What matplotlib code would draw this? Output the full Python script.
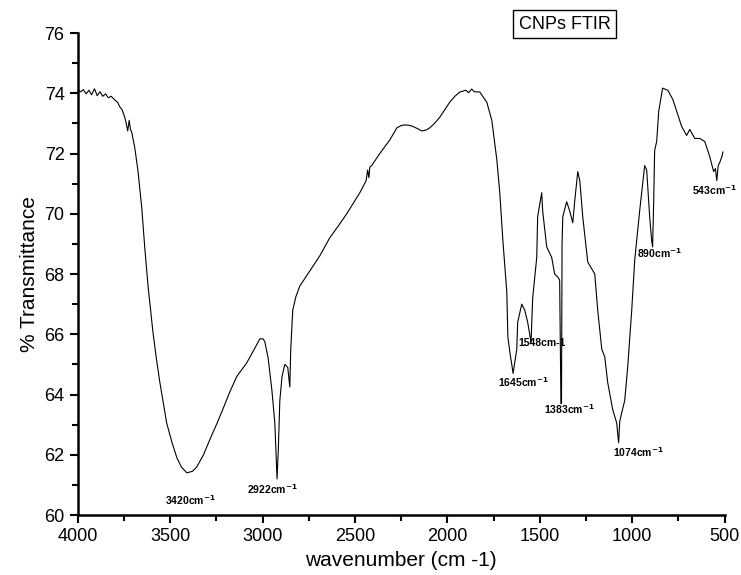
import numpy as np
import matplotlib.pyplot as plt

plt.rcParams['font.family'] = ['Liberation Sans', 'DejaVu Sans']

# FTIR spectrum (wavenumber cm-1, % transmittance)
wavenumber = [4000, 3985, 3970, 3955, 3940, 3925, 3910, 3895, 3880, 3865, 3850,
              3835, 3820, 3800, 3785, 3773, 3760, 3746, 3738, 3730, 3722, 3715,
              3708, 3692, 3675, 3654, 3638, 3620, 3594, 3575, 3556, 3537, 3519,
              3490, 3464, 3440, 3410, 3380, 3356, 3320, 3286, 3250, 3216, 3180,
              3140, 3110, 3086, 3050, 3015, 2998, 2988, 2970, 2950, 2934, 2922,
              2915, 2907, 2895, 2880, 2864, 2853, 2848, 2837, 2820, 2799, 2745,
              2691, 2637, 2590, 2545, 2474, 2440, 2432, 2425, 2420, 2410, 2366,
              2312, 2274, 2250, 2231, 2210, 2188, 2160, 2139, 2115, 2096, 2070,
              2042, 2015, 1988, 1960, 1933, 1900, 1885, 1869, 1855, 1825, 1787,
              1760, 1733, 1717, 1700, 1679, 1673, 1660, 1652, 1645, 1635, 1625,
              1620, 1598, 1582, 1566, 1555, 1548, 1539, 1517, 1512, 1490, 1485,
              1463, 1436, 1420, 1403, 1393, 1386, 1383, 1380, 1376, 1355, 1339,
              1322, 1311, 1295, 1284, 1268, 1241, 1203, 1187, 1165, 1149, 1133,
              1106, 1084, 1079, 1074, 1068, 1057, 1041, 1025, 1003, 987, 960,
              933, 922, 906, 895, 890, 884, 879, 868, 857, 836, 808, 781, 754,
              733, 706, 689, 662, 635, 608, 581, 560, 550, 543, 535, 527, 515, 510]
transmittance = [74.10, 74.05, 74.12, 73.98, 74.10, 73.95, 74.15, 73.92, 74.05,
                 73.90, 73.98, 73.85, 73.90, 73.78, 73.70, 73.55, 73.45, 73.20,
                 73.00, 72.75, 73.10, 72.80, 72.70, 72.20, 71.45, 70.20, 68.90,
                 67.60, 66.10, 65.20, 64.40, 63.70, 63.05, 62.40, 61.90, 61.60,
                 61.40, 61.45, 61.60, 62.00, 62.50, 63.00, 63.50, 64.05, 64.60,
                 64.85, 65.05, 65.45, 65.85, 65.85, 65.75, 65.20, 64.15, 63.05,
                 61.20, 62.20, 63.80, 64.60, 65.00, 64.90, 64.25, 65.50, 66.80,
                 67.25, 67.60, 68.10, 68.60, 69.20, 69.60, 70.00, 70.70, 71.10,
                 71.45, 71.20, 71.55, 71.60, 72.00, 72.45, 72.85, 72.93, 72.95,
                 72.94, 72.90, 72.82, 72.75, 72.78, 72.85, 73.00, 73.20, 73.45,
                 73.70, 73.90, 74.04, 74.10, 74.02, 74.14, 74.05, 74.04, 73.70,
                 73.10, 71.80, 70.70, 69.10, 67.40, 65.90, 65.30, 65.00, 64.70,
                 65.10, 65.50, 66.40, 67.00, 66.80, 66.40, 66.00, 65.70, 67.20,
                 68.55, 69.90, 70.70, 70.10, 68.90, 68.55, 68.00, 67.90, 67.80,
                 63.70, 63.70, 69.00, 69.90, 70.40, 70.10, 69.70, 70.45, 71.40,
                 71.10, 69.90, 68.40, 68.00, 66.80, 65.50, 65.25, 64.40, 63.50,
                 63.05, 62.70, 62.40, 63.10, 63.40, 63.80, 64.90, 66.80, 68.45,
                 70.10, 71.60, 71.45, 69.90, 69.10, 68.90, 70.45, 72.10, 72.40,
                 73.40, 74.17, 74.10, 73.80, 73.30, 72.90, 72.60, 72.80, 72.50,
                 72.50, 72.40, 71.90, 71.40, 71.50, 71.10, 71.60, 71.70, 71.90,
                 72.05]

# peak annotations: text, x, y (data coords of the label's left edge)
peak_labels = [r'3420cm$^{\mathbf{-1}}$', r'2922cm$^{\mathbf{-1}}$',
               r'1645cm$^{\mathbf{-1}}$', '1548cm-1',
               r'1383cm$^{\mathbf{-1}}$', r'1074cm$^{\mathbf{-1}}$',
               r'890cm$^{\mathbf{-1}}$', r'543cm$^{\mathbf{-1}}$']
label_x = [3529, 3086, 1728, 1614, 1479, 1106, 976, 675]
label_y = [60.5, 60.86, 64.4, 65.7, 63.5, 62.1, 68.7, 70.8]

fig = plt.figure(figsize=(7.41, 5.75), dpi=100)
ax = fig.add_axes([0.105, 0.1043, 0.873, 0.8383])

ax.plot(wavenumber, transmittance, color='black', lw=0.8)

for txt, lx, ly in zip(peak_labels, label_x, label_y):
    ax.text(lx, ly, txt, fontsize=7.5, fontweight='bold', va='center', ha='left')

ax.set_xlim(4000, 500)
ax.set_ylim(60, 76)
ax.set_xticks(np.arange(4000, 499, -500))
ax.set_xticks(np.arange(3750, 500, -500), minor=True)
ax.set_yticks(np.arange(60, 77, 2))
ax.set_yticks(np.arange(61, 76, 2), minor=True)

for side in ['top', 'right']:
    ax.spines[side].set_visible(False)
for side in ['left', 'bottom']:
    ax.spines[side].set_linewidth(1.8)

ax.tick_params(which='major', direction='out', length=6, width=1.5, labelsize=13)
ax.tick_params(which='minor', direction='out', length=4, width=1.5)

ax.set_xlabel('wavenumber (cm -1)', fontsize=15)
ax.set_ylabel('% Transmittance', fontsize=15)

fig.text(0.762, 0.958, 'CNPs FTIR', fontsize=13, ha='center', va='center',
         bbox=dict(boxstyle='square,pad=0.3', fc='white', ec='black', lw=1))

fig.savefig('out.png', dpi=100)
